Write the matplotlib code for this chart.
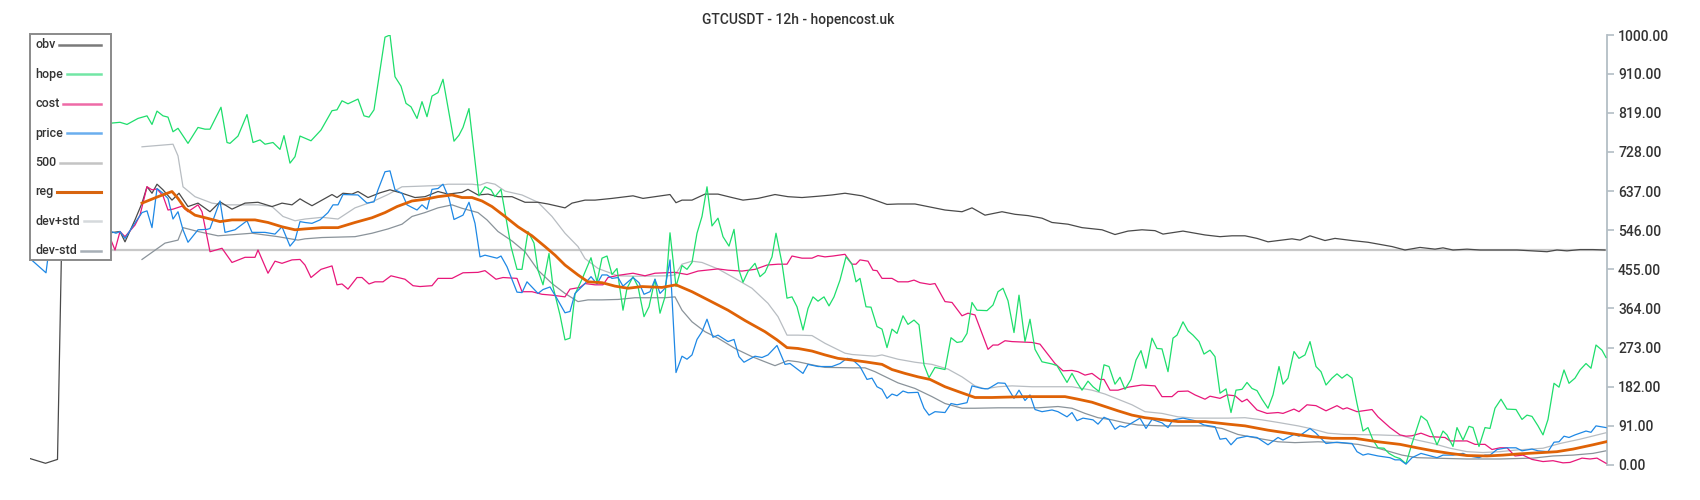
import matplotlib
matplotlib.use("Agg")
import matplotlib.pyplot as plt
from matplotlib.lines import Line2D
from matplotlib.patches import Rectangle

plt.rcParams['font.family'] = ['Roboto', 'DejaVu Sans']

# --- data: (bar index, value) ---
obv = [(0, 15), (3.1, 4), (5.5, 13), (6.4, 560), (12, 548), (16, 540), (18, 543), (19, 519),
       (21, 570), (22.4, 609), (23.4, 647), (24.4, 632), (25.4, 653), (26.6, 640), (28.4, 616),
       (29.8, 632), (31.6, 601), (33.6, 609), (36, 589), (38, 612), (40.4, 595), (43, 609),
       (45.6, 611), (48.4, 601), (50.4, 609), (52.4, 605), (54, 619), (55, 612), (56.4, 603),
       (58.4, 616), (60.4, 629), (61.4, 622), (62.6, 632), (64.4, 630), (65.6, 636), (67.6, 622),
       (70, 633), (72, 640), (74.4, 632), (77, 622), (79, 624), (81.6, 636), (83.6, 630),
       (86.4, 634), (87.6, 641), (89.6, 628), (91.6, 630), (93.6, 624), (96.4, 624), (99, 611),
       (101.6, 611), (103.6, 607), (107, 598), (108.4, 609), (111, 616), (113, 616), (116.4, 620),
       (120.6, 626), (122.6, 620), (125.6, 625), (128, 629), (129.2, 610), (130.4, 616),
       (132.4, 616), (135, 630), (137.6, 630), (140.4, 622), (142.6, 616), (145.6, 620),
       (149, 629), (151.6, 624), (154.4, 622), (157.6, 625), (160.4, 628), (163, 632),
       (166.4, 626), (169, 616), (171.4, 606), (173.6, 607), (177, 607), (180.4, 599), (183, 593),
       (186.4, 589), (188.4, 598), (191, 581), (194.4, 589), (197, 583), (199.6, 580),
       (202.4, 574), (204.4, 564), (207.6, 560), (210.4, 552), (214.4, 547), (217, 536),
       (219.6, 544), (222.4, 547), (225, 545), (226.6, 537), (230.6, 544), (235, 535), (238, 531),
       (240.4, 533), (243, 533), (245.4, 527), (247.6, 519), (250.4, 523), (252.4, 526),
       (254, 523), (256, 533), (259, 522), (261, 527), (264.4, 522), (267.6, 518), (272.4, 508),
       (275, 500), (278, 506), (281, 502), (282.6, 505), (284.6, 500), (287.4, 502), (290, 500),
       (294, 500), (297.4, 500), (300.6, 498), (303.4, 496), (305.4, 500), (307.4, 498),
       (310, 501), (312.6, 501), (315, 500)]

hope = [(0, 790), (6, 800), (12, 795), (16.2, 795), (18, 797), (19.4, 792), (21.6, 806),
        (23.4, 812), (24.4, 792), (25.4, 823), (26.6, 812), (27.6, 809), (28.6, 775), (29.6, 783),
        (31.6, 748), (33.6, 785), (35, 781), (36, 781), (38.2, 832), (39.4, 750), (40, 748),
        (41.6, 765), (43.4, 815), (44.6, 750), (46, 756), (47, 746), (48.6, 750), (50, 734),
        (50.8, 766), (52, 702), (53, 717), (54, 765), (55, 760), (56.2, 754), (58.2, 779),
        (60.4, 824), (61.4, 826), (62.4, 847), (63.6, 840), (65.6, 851), (66.8, 812), (67.8, 809),
        (68.8, 826), (71, 995), (72, 1000), (73, 903), (74.2, 881), (75.2, 841), (76.2, 833),
        (77.4, 806), (78.4, 845), (79.4, 810), (80.4, 858), (81.6, 866), (82.6, 897), (84.8, 753),
        (85.8, 767), (86.6, 785), (87.8, 829), (89.8, 626), (91, 647), (92.2, 640), (93, 624),
        (94.2, 641), (96.2, 508), (97.4, 455), (98.4, 455), (99.6, 543), (100.8, 516),
        (101.6, 453), (102.6, 419), (103.8, 492), (104.6, 415), (106, 349), (107, 291), (108, 295),
        (109, 397), (110.4, 432), (112.2, 482), (113.4, 426), (114.4, 481), (115.4, 486),
        (116.4, 443), (117.4, 457), (118.6, 360), (119.4, 411), (120.6, 438), (121.6, 415),
        (122.8, 345), (123.8, 368), (125, 432), (126, 353), (127, 391), (128, 540), (129.2, 415),
        (130.4, 464), (131.4, 455), (132.4, 471), (133.4, 539), (134.4, 578), (135.4, 647),
        (136.4, 556), (137.6, 574), (138.6, 531), (139.8, 509), (140.8, 548), (141.8, 453),
        (142.6, 425), (143.6, 450), (145, 469), (146, 438), (147, 448), (148.4, 484), (149.2, 539),
        (150.4, 469), (151.4, 388), (152.4, 391), (153.4, 368), (154.6, 314), (155.6, 364),
        (156.6, 391), (157.6, 381), (158.8, 391), (159.8, 370), (160.8, 391), (162, 430),
        (163.2, 484), (164.4, 467), (165.2, 426), (166, 434), (167.2, 368), (168.2, 367),
        (169.4, 322), (170.4, 316), (171.4, 273), (172.4, 316), (173.4, 306), (174.6, 347),
        (175.6, 327), (176.8, 337), (177.8, 326), (178.8, 233), (179.8, 203), (181, 227),
        (183, 222), (184.2, 296), (185.4, 285), (186.4, 287), (187.4, 306), (188.4, 378),
        (189.4, 360), (191.4, 359), (192.6, 372), (193.6, 403), (194.6, 411), (195.6, 382),
        (196.8, 308), (197.8, 395), (199, 287), (200, 339), (201, 269), (202.4, 240), (204.4, 235),
        (205.4, 231), (207.4, 192), (208.4, 213), (209.4, 192), (210.4, 174), (211.6, 195),
        (212.6, 182), (213.8, 171), (214.8, 233), (215.8, 229), (217, 188), (218, 204), (219, 176),
        (220.2, 199), (221.2, 244), (222.2, 266), (223.2, 225), (224.4, 295), (225.4, 271),
        (226.4, 270), (227.6, 217), (228.6, 295), (229.4, 302), (230.6, 333), (231.6, 312),
        (232.6, 302), (233.8, 287), (234.8, 258), (236, 267), (237, 252), (238, 167), (239.2, 177),
        (240.2, 122), (241.2, 174), (242.4, 176), (243.4, 192), (244.4, 178), (245.4, 173),
        (246.4, 153), (247.6, 132), (248.6, 163), (249.8, 229), (250.6, 188), (251.6, 202),
        (252.8, 264), (253.8, 248), (255, 256), (256, 287), (257.2, 229), (258.2, 217),
        (259.2, 186), (260.4, 202), (261.4, 212), (262.4, 202), (263.4, 211), (264.4, 202),
        (265.4, 143), (266.6, 79), (267.6, 87), (268.6, 58), (269.6, 40), (270.8, 39), (271.8, 27),
        (273, 19), (274, 15), (275.2, 3), (276.4, 50), (278.2, 114), (279.4, 103), (281.4, 47),
        (282.6, 79), (283.4, 70), (284.6, 43), (285.4, 87), (286.6, 58), (287.8, 90), (288.6, 87),
        (289.8, 43), (291, 87), (292, 85), (293, 132), (294.2, 153), (295.4, 130), (297.2, 129),
        (298.4, 106), (299.4, 116), (300.4, 113), (301.6, 91), (302.6, 70), (303.6, 106),
        (304.8, 190), (305.8, 181), (306.8, 221), (307.8, 190), (309, 202), (310, 221),
        (311.2, 236), (312.2, 225), (313.2, 279), (314.4, 267), (315.2, 250)]

cost = [(0, 505), (6, 510), (12, 515), (16.2, 523), (17, 500), (18, 543), (19, 531), (21, 558),
        (22, 581), (23.4, 647), (24.4, 640), (25.4, 642), (26.6, 626), (27.6, 593), (28.6, 595),
        (30.4, 602), (31.6, 589), (33.6, 605), (34.4, 589), (36, 496), (38.4, 504), (40.4, 471),
        (43, 483), (45, 483), (45.6, 500), (47.6, 446), (49, 474), (50.4, 469), (52.4, 477),
        (54, 478), (55, 465), (56.2, 436), (58.2, 455), (60.4, 463), (61.4, 419), (62.4, 421),
        (63.6, 409), (65.4, 436), (66.4, 436), (67.8, 421), (69, 426), (70.6, 426), (72.2, 440),
        (73.6, 436), (75, 432), (76.6, 417), (78, 415), (80.4, 417), (81.6, 434), (84.4, 434),
        (86.6, 447), (89.6, 448), (91, 452), (93.2, 432), (94.6, 436), (97.4, 434), (98.4, 403),
        (100.4, 403), (102.4, 397), (104.4, 395), (107, 391), (108, 409), (110, 413), (111, 422),
        (113, 419), (114.6, 419), (115.6, 436), (117.6, 441), (120.6, 446), (123, 440), (125, 446),
        (129, 448), (131.4, 443), (133.6, 451), (137.6, 456), (139.6, 453), (142.4, 451),
        (145, 455), (147.4, 465), (149.6, 467), (151.4, 467), (152.4, 486), (154.4, 481),
        (156.4, 481), (157.6, 487), (159, 484), (160.6, 486), (163, 490), (164.4, 467),
        (165.2, 467), (166, 477), (167.6, 474), (168.6, 453), (169.4, 452), (170.4, 434),
        (172.4, 434), (173.6, 426), (175.6, 426), (176.8, 430), (178, 424), (180, 420), (181, 422),
        (183, 380), (184.4, 378), (186.4, 347), (187.6, 353), (189, 349), (190.4, 306),
        (191.6, 269), (192.6, 279), (193.6, 279), (195, 289), (196.4, 287), (200.4, 285),
        (202, 281), (203.4, 260), (205, 236), (206.6, 219), (208.4, 220), (209.6, 217), (211, 209),
        (212.4, 213), (214, 199), (214.8, 199), (216, 174), (217.6, 174), (219.6, 181),
        (222.4, 186), (225, 184), (226.4, 159), (228.4, 159), (229.6, 171), (231.6, 172),
        (233, 163), (235, 153), (236, 160), (238, 155), (239.4, 163), (241, 161), (242.4, 147),
        (243.4, 153), (245.4, 128), (247.4, 120), (249.6, 122), (250.6, 120), (252.8, 130),
        (253.8, 124), (255.4, 140), (257.2, 138), (259.2, 126), (261.4, 138), (262.6, 130),
        (263.4, 133), (265.4, 124), (268.4, 129), (269.6, 112), (272, 87), (274, 70), (275.2, 67),
        (276.4, 68), (278.2, 74), (280, 66), (283, 64), (284, 56), (287.4, 56), (289, 48),
        (291, 48), (292.4, 36), (294, 40), (295.4, 40), (297, 21), (298.6, 23), (300.4, 13),
        (302.6, 8), (304.6, 10), (306.6, 5), (308, 6), (310.4, 16), (312, 14), (313.4, 16),
        (315.2, 4)]

price = [(0.3, 477), (3.2, 447), (4, 520), (8, 540), (12, 530), (16.2, 543), (17.2, 539),
         (18, 543), (19, 527), (21, 563), (22.4, 587), (23.4, 591), (24.4, 552), (25.4, 643),
         (26.6, 632), (27.6, 620), (28.6, 572), (29.6, 589), (30.6, 547), (31.6, 518), (33.6, 547),
         (35.4, 548), (36, 550), (38, 614), (39, 541), (41, 547), (43.4, 568), (44.4, 541),
         (47, 541), (49, 537), (50.4, 554), (52, 509), (53, 523), (54, 566), (55, 564),
         (56.4, 562), (58, 570), (59.6, 587), (60.6, 605), (61.6, 605), (62.6, 629), (65.6, 628),
         (67.4, 609), (68.8, 612), (69.6, 640), (71, 682), (72, 684), (73, 640), (74.4, 632),
         (75.4, 605), (76.4, 599), (77.4, 593), (78.4, 605), (79.4, 595), (80.4, 641),
         (81.6, 643), (82.6, 653), (83.8, 620), (84.8, 571), (86.6, 581), (87.8, 611), (89, 562),
         (90, 484), (91, 488), (93.4, 481), (94.2, 486), (95.4, 461), (97.4, 402), (98.4, 401),
         (99.4, 426), (101.6, 399), (102.6, 408), (104, 414), (105.2, 391), (107, 354), (108, 357),
         (109, 399), (110.4, 415), (111, 422), (112.2, 438), (113.4, 421), (114.4, 442),
         (115.4, 442), (116.4, 434), (117.6, 436), (118.6, 416), (120.6, 436), (121.8, 424),
         (122.8, 397), (124, 403), (125, 432), (126, 399), (127, 411), (128, 477), (129.2, 215),
         (130.4, 253), (131.4, 246), (132.4, 256), (133.4, 292), (134.4, 310), (135.4, 339),
         (136.6, 297), (137.6, 302), (139.6, 287), (140.8, 292), (141.8, 252), (142.8, 239),
         (145, 253), (146.4, 250), (147.6, 256), (149.4, 278), (151, 234), (152, 236),
         (154.6, 213), (155.6, 234), (157.6, 229), (160.4, 229), (162, 236), (163.4, 248),
         (164.4, 246), (166, 229), (167.4, 199), (168.4, 202), (169.4, 182), (170.4, 176),
         (171.4, 155), (172.4, 165), (173.4, 161), (174.6, 172), (175.6, 168), (177.6, 169),
         (178.8, 132), (179.8, 116), (181, 124), (183, 122), (184.2, 143), (185.4, 140),
         (187.4, 145), (188.4, 184), (190.4, 178), (191.6, 177), (193.6, 191), (195, 190),
         (196.8, 155), (197.8, 174), (199, 150), (200, 163), (201, 129), (202.4, 124),
         (204.4, 128), (205.6, 124), (207.4, 112), (208.4, 122), (209.4, 103), (210.6, 109),
         (212.6, 105), (213.6, 95), (214.8, 111), (215.8, 106), (217, 83), (218, 91), (219, 88),
         (220.4, 98), (222, 109), (223.2, 85), (224.4, 106), (226.4, 98), (227.6, 87),
         (228.6, 105), (230.6, 109), (233, 103), (234.8, 93), (237, 89), (238, 60), (239.2, 62),
         (240.2, 47), (241.4, 62), (243.4, 67), (245.4, 64), (247.6, 47), (249.6, 64),
         (250.6, 58), (252.8, 71), (253.8, 67), (256, 85), (257.2, 74), (259.2, 50), (261.4, 53),
         (264.4, 50), (265.4, 31), (266.6, 23), (267.6, 26), (269.6, 21), (272, 17), (273, 12),
         (274, 12), (275.2, 2), (276.4, 17), (278.2, 27), (281.4, 17), (282.6, 23), (284.6, 23),
         (286.6, 27), (287.8, 21), (289.8, 17), (291, 23), (292, 23), (293.4, 36), (295.4, 40),
         (297.2, 40), (298.4, 33), (300.4, 37), (301.6, 33), (303.6, 31), (304.8, 53),
         (305.8, 54), (306.8, 67), (307.8, 64), (309, 70), (311.2, 79), (312.2, 76), (313.2, 91),
         (315.2, 87)]

reg = [(22.4, 609), (25.6, 624), (28.4, 636), (29.6, 620), (31, 597), (33, 581), (35.4, 574),
       (38, 566), (40.4, 570), (45, 570), (47.6, 564), (50.4, 554), (53, 547), (55, 549),
       (58.4, 552), (61.6, 552), (65, 564), (68.4, 575), (71, 587), (73.4, 601), (76.4, 614),
       (79, 618), (81.6, 624), (84.4, 628), (86.4, 622), (88.4, 622), (90.4, 614), (92.4, 601),
       (95, 578), (97.6, 554), (100.4, 533), (103, 508), (105, 488), (107, 465), (109.6, 442),
       (111.6, 426), (114.4, 424), (117, 416), (119.6, 411), (122.4, 415), (126.4, 413),
       (129.2, 419), (132.4, 403), (135.6, 384), (139.6, 360), (143, 336), (147, 310),
       (149.4, 291), (151.4, 273), (153.6, 271), (156.4, 265), (159, 256), (161.6, 248),
       (164.4, 244), (167, 240), (170.4, 234), (172.4, 222), (175, 213), (177.6, 205), (180, 199),
       (183, 182), (185.6, 171), (189, 157), (192.4, 157), (199, 159), (207, 159), (209.6, 153),
       (212.4, 146), (215, 136), (217.6, 126), (220.4, 116), (223, 110), (229.6, 101),
       (235, 101), (239.6, 95), (243, 91), (247.6, 81), (251.6, 74), (256.4, 66), (260.4, 62),
       (265, 62), (269.6, 54), (274, 48), (277.4, 40), (280.6, 33), (284, 27), (287.4, 22),
       (291.4, 21), (294.6, 23), (298, 26), (302.6, 29), (305.4, 31), (308.6, 37), (312.6, 47),
       (315.2, 54)]

dev_plus = [(22.4, 740), (28.6, 746), (29.6, 719), (30.6, 647), (33, 624), (36.4, 609),
            (39, 605), (45.6, 605), (48.4, 601), (50.6, 578), (53, 568), (55, 572), (58.4, 576),
            (61.6, 572), (65, 598), (68.4, 612), (71.6, 629), (74.4, 647), (77, 648), (81.6, 650),
            (83.6, 653), (88.4, 653), (90, 651), (91.4, 657), (93, 653), (95, 637), (98.4, 628),
            (101.6, 611), (104.4, 578), (107, 539), (109.6, 508), (111, 480), (113.6, 457),
            (117.6, 440), (121, 439), (127.6, 440), (129, 442), (130.4, 467), (132.4, 474),
            (134.4, 471), (137.6, 456), (141, 434), (144.4, 411), (147.6, 376), (149.6, 345),
            (151.4, 302), (153.6, 302), (156.4, 301), (159, 283), (163, 260), (164.4, 257),
            (169, 253), (170.4, 256), (173.6, 246), (177, 239), (180.4, 234), (183.6, 223),
            (186.4, 205), (189, 184), (191, 177), (193.6, 182), (196.4, 184), (200.4, 182),
            (208.4, 182), (212.4, 174), (215, 165), (217.6, 153), (220.4, 140), (223, 124),
            (226.4, 120), (229.6, 112), (233, 109), (239.6, 109), (243, 110), (246.4, 105),
            (249.6, 99), (253.6, 91), (256.4, 84), (259.6, 74), (263, 71), (269.6, 70), (274.4, 68),
            (277.4, 58), (280.6, 50), (284, 39), (287.4, 31), (290.6, 29), (294, 31), (297.4, 35),
            (302.6, 39), (306, 50), (310, 60), (315.2, 75)]

dev_minus = [(22.4, 478), (27, 516), (29.6, 523), (30.6, 552), (33.6, 543), (37.6, 533),
             (44.4, 539), (49.6, 531), (53.6, 523), (55, 526), (58.4, 529), (65, 531),
             (68.4, 539), (71.6, 549), (74.4, 560), (76.4, 578), (79, 587), (81.6, 598),
             (84.4, 605), (86.4, 597), (89.6, 587), (91.4, 570), (93.6, 543), (96.4, 521),
             (99, 496), (101.6, 453), (104.4, 422), (107, 399), (109.6, 380), (111.6, 384),
             (114.4, 384), (117.6, 385), (121, 389), (127, 389), (129, 391), (130.4, 360),
             (132.4, 333), (135, 310), (137.6, 295), (141, 271), (144.4, 252), (147, 240),
             (149, 231), (151.6, 243), (153.6, 240), (156.4, 233), (159, 227), (164.4, 226),
             (167, 226), (169, 217), (170.4, 209), (173.6, 191), (177, 178), (180.4, 159),
             (183, 143), (186.4, 132), (189, 132), (193.6, 133), (201.6, 133), (205.6, 136),
             (208.4, 132), (211, 120), (213.6, 110), (216.4, 105), (219, 98), (221.6, 93),
             (226.4, 91), (235, 91), (238.4, 85), (241.6, 71), (245.6, 62), (249.6, 54), (253, 52),
             (257.6, 54), (261.6, 52), (265.6, 48), (269.6, 39), (274.4, 23), (277.4, 17),
             (280.6, 16), (287.4, 14), (294, 14), (300.6, 16), (304.6, 21), (308.6, 23),
             (312.6, 27), (315.2, 33)]

level = 500
n_bars = 315.4
yticks = [0, 91, 182, 273, 364, 455, 546, 637, 728, 819, 910, 1000]

series = [
    # label, data, colour in chart, width, legend colour
    ('obv', obv, '#4a4a4a', 0.9, '#7a7a7a'),
    ('hope', hope, '#1ede6c', 0.9, '#72e6a5'),
    ('cost', cost, '#e8177a', 0.9, '#ee6aa7'),
    ('price', price, '#1e88e5', 0.9, '#6aaeee'),
    ('500', None, '#c8c8c8', 1.6, '#c4c4c4'),
    ('reg', reg, '#df6206', 2.0, '#d8650f'),
    ('dev+std', dev_plus, '#b8bdc2', 0.9, '#d5d9dc'),
    ('dev-std', dev_minus, '#8a939a', 0.9, '#a7afb6'),
]

W, H = 1700, 500
fig = plt.figure(figsize=(W / 100, H / 100), dpi=100)
ax = fig.add_axes([30 / W, 35 / H, 1577 / W, 430 / H])

zorders = {'500': 1, 'dev+std': 2, 'dev-std': 2, 'obv': 3, 'cost': 4, 'hope': 5, 'price': 6, 'reg': 7}
for label, data, col, lw, _ in series:
    if data is None:
        ax.axhline(level, color=col, lw=lw, zorder=zorders[label])
        continue
    t, v = zip(*data)
    ax.plot(t, v, color=col, lw=lw, zorder=zorders[label])

ax.set_xlim(0, n_bars)
ax.set_ylim(0, 1000)
ax.yaxis.tick_right()
ax.set_yticks(yticks)
ax.set_yticklabels([f'{v:.2f}' for v in yticks], fontweight='medium')
ax.set_xticks([])
for s in ['left', 'top', 'bottom']:
    ax.spines[s].set_visible(False)
ax.spines['right'].set_color('#b3bec5')
ax.spines['right'].set_linewidth(1.3)
ax.tick_params(axis='y', colors='#b3bec5', length=5, width=1.2, pad=3,
               labelsize=10, labelcolor='#333333')

fig.text(798 / W, 1 - 20 / H, 'GTCUSDT - 12h - hopencost.uk', ha='center', va='center',
         fontsize=10, fontweight='medium', color='#333333')

# hand-made legend box (label first, line after)
box = Rectangle((30 / W, 1 - 260 / H), 81 / W, 226 / H, transform=fig.transFigure,
                facecolor='white', edgecolor='#8a8a8a', lw=1.4, zorder=20)
fig.patches.append(box)
texts = []
for i, (label, _, _, _, lcol) in enumerate(series):
    yc = 1 - (45 + i * 29.4) / H
    tx = fig.text(35 / W, yc, label, ha='left', va='center', fontsize=9,
                  fontweight='medium', color='#333333', zorder=21)
    texts.append((tx, yc, lcol, label))

fig.canvas.draw()
renderer = fig.canvas.get_renderer()
for tx, yc, lcol, label in texts:
    bb = tx.get_window_extent(renderer)
    x0 = (bb.x1 + 4) / W
    lw = 2.2 if label == 'reg' else 1.8
    fig.lines.append(Line2D([x0, 101 / W], [yc, yc], transform=fig.transFigure,
                            color=lcol, lw=lw, zorder=21))

fig.savefig('out.png', dpi=100, facecolor='white')
